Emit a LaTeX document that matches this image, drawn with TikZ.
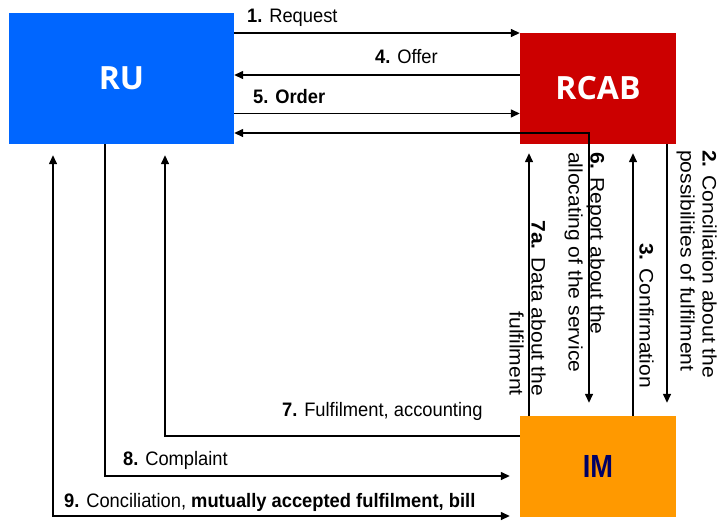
\documentclass[tikz,border=0pt]{standalone}
\usepackage{fontspec}
\setmainfont{Liberation Sans}
\newfontfamily\hfont[FakeStretch=0.94]{Liberation Sans}
\newfontfamily\vfont[FakeStretch=1.08]{Liberation Sans}
\newfontfamily\boxfont{Open Sans}
\newfontfamily\imfont[FakeStretch=0.85]{Liberation Sans}
\usetikzlibrary{arrows.meta}

\definecolor{rublue}{RGB}{0,102,255}
\definecolor{rcabred}{RGB}{204,0,0}
\definecolor{imorange}{RGB}{255,153,0}
\definecolor{imnavy}{RGB}{0,0,102}

\begin{document}
\begin{tikzpicture}[x=1pt,y=-1pt,
  party/.style={inner sep=0pt, draw=none},
  conn/.style={line width=1.4pt, draw=black, -{Triangle[length=9pt,width=8pt]}},
  both/.style={line width=1.4pt, draw=black, {Triangle[length=9pt,width=8pt]}-{Triangle[length=9pt,width=8pt]}},
  hlab/.style={inner sep=0pt, anchor=base west, font=\hfont\fontsize{19.5}{22}\selectfont},
  vlab/.style={inner sep=0pt, rotate=-90, font=\vfont\fontsize{19.5}{22}\selectfont}]

  % frame of the page
  \useasboundingbox (0,0) rectangle (725,520);

  % the three parties
  \node[party, fill=rublue, minimum width=225pt, minimum height=131pt,
        text=white, font=\boxfont\bfseries\fontsize{32}{36}\selectfont] (ru) at (121.5,78.5) {RU};
  \node[party, fill=rcabred, minimum width=156pt, minimum height=111pt,
        text=white, font=\boxfont\bfseries\fontsize{32}{36}\selectfont] (rcab) at (598,88.5) {RCAB};
  \node[party, fill=imorange, minimum width=156pt, minimum height=101pt,
        text=imnavy, font=\imfont\bfseries\fontsize{32}{36}\selectfont] (im) at (598,466.5) {IM};

  % messages between RU and RCAB
  \draw[conn] (ru.east |- 0,33) -- (rcab.west |- 0,33);
  \draw[conn] (rcab.west |- 0,75) -- (ru.east |- 0,75);
  \draw[conn] (ru.east |- 0,113.5) -- (rcab.west |- 0,113.5);
  \draw[both, shorten >=13pt] (ru.east |- 0,133) -| (im.north -| 589,0);

  % messages between RCAB and IM
  \draw[conn, shorten >=13pt] (rcab.south -| 667,0) -- (im.north -| 667,0);
  \draw[conn, shorten >=9pt] (im.north -| 633,0) -- (rcab.south -| 633,0);
  \draw[conn, shorten >=9pt] (im.north -| 529,0) -- (rcab.south -| 529,0);

  % messages between IM and RU
  \draw[conn, shorten >=11pt] (im.west |- 0,436) -| (ru.south -| 165,0);
  \draw[conn, shorten >=10pt] (ru.south -| 105,0) |- (im.west |- 0,476);
  \draw[both, shorten >=11pt, shorten <=10pt] (im.west |- 0,516) -| (ru.south -| 53,0);

  % horizontal labels
  \node[hlab] (l1) at (247,22.7) {\textbf{1.} Request};
  \node[hlab] (l4) at (375,63) {\textbf{4.} Offer};
  \node[hlab] (l5) at (253,103) {\textbf{5. Order}};
  \node[hlab] (l7) at (282,416.5) {\textbf{7.} Fulfilment, accounting};
  \node[hlab] (l8) at (123,465) {\textbf{8.} Complaint};
  \node[hlab] (l9) at (64,507) {\textbf{9.} Conciliation, \textbf{mutually accepted fulfilment, bill}};

  % vertical labels
  \node[vlab, anchor=north west, align=left] (l2) at (717,150)
    {\textbf{2.} Conciliation about the\\possibilities of fulfilment};
  \node[vlab, anchor=north west, align=left] (l6) at (605,152)
    {\textbf{6.} Report about the\\allocating of the service};
  \node[vlab, anchor=north east] (l3) at (654,388) {\textbf{3.} Confirmation};
  \node[vlab, anchor=north east, align=right] (l7a) at (546,396)
    {\textbf{7a.} Data about the\\fulfilment};
\end{tikzpicture}
\end{document}
